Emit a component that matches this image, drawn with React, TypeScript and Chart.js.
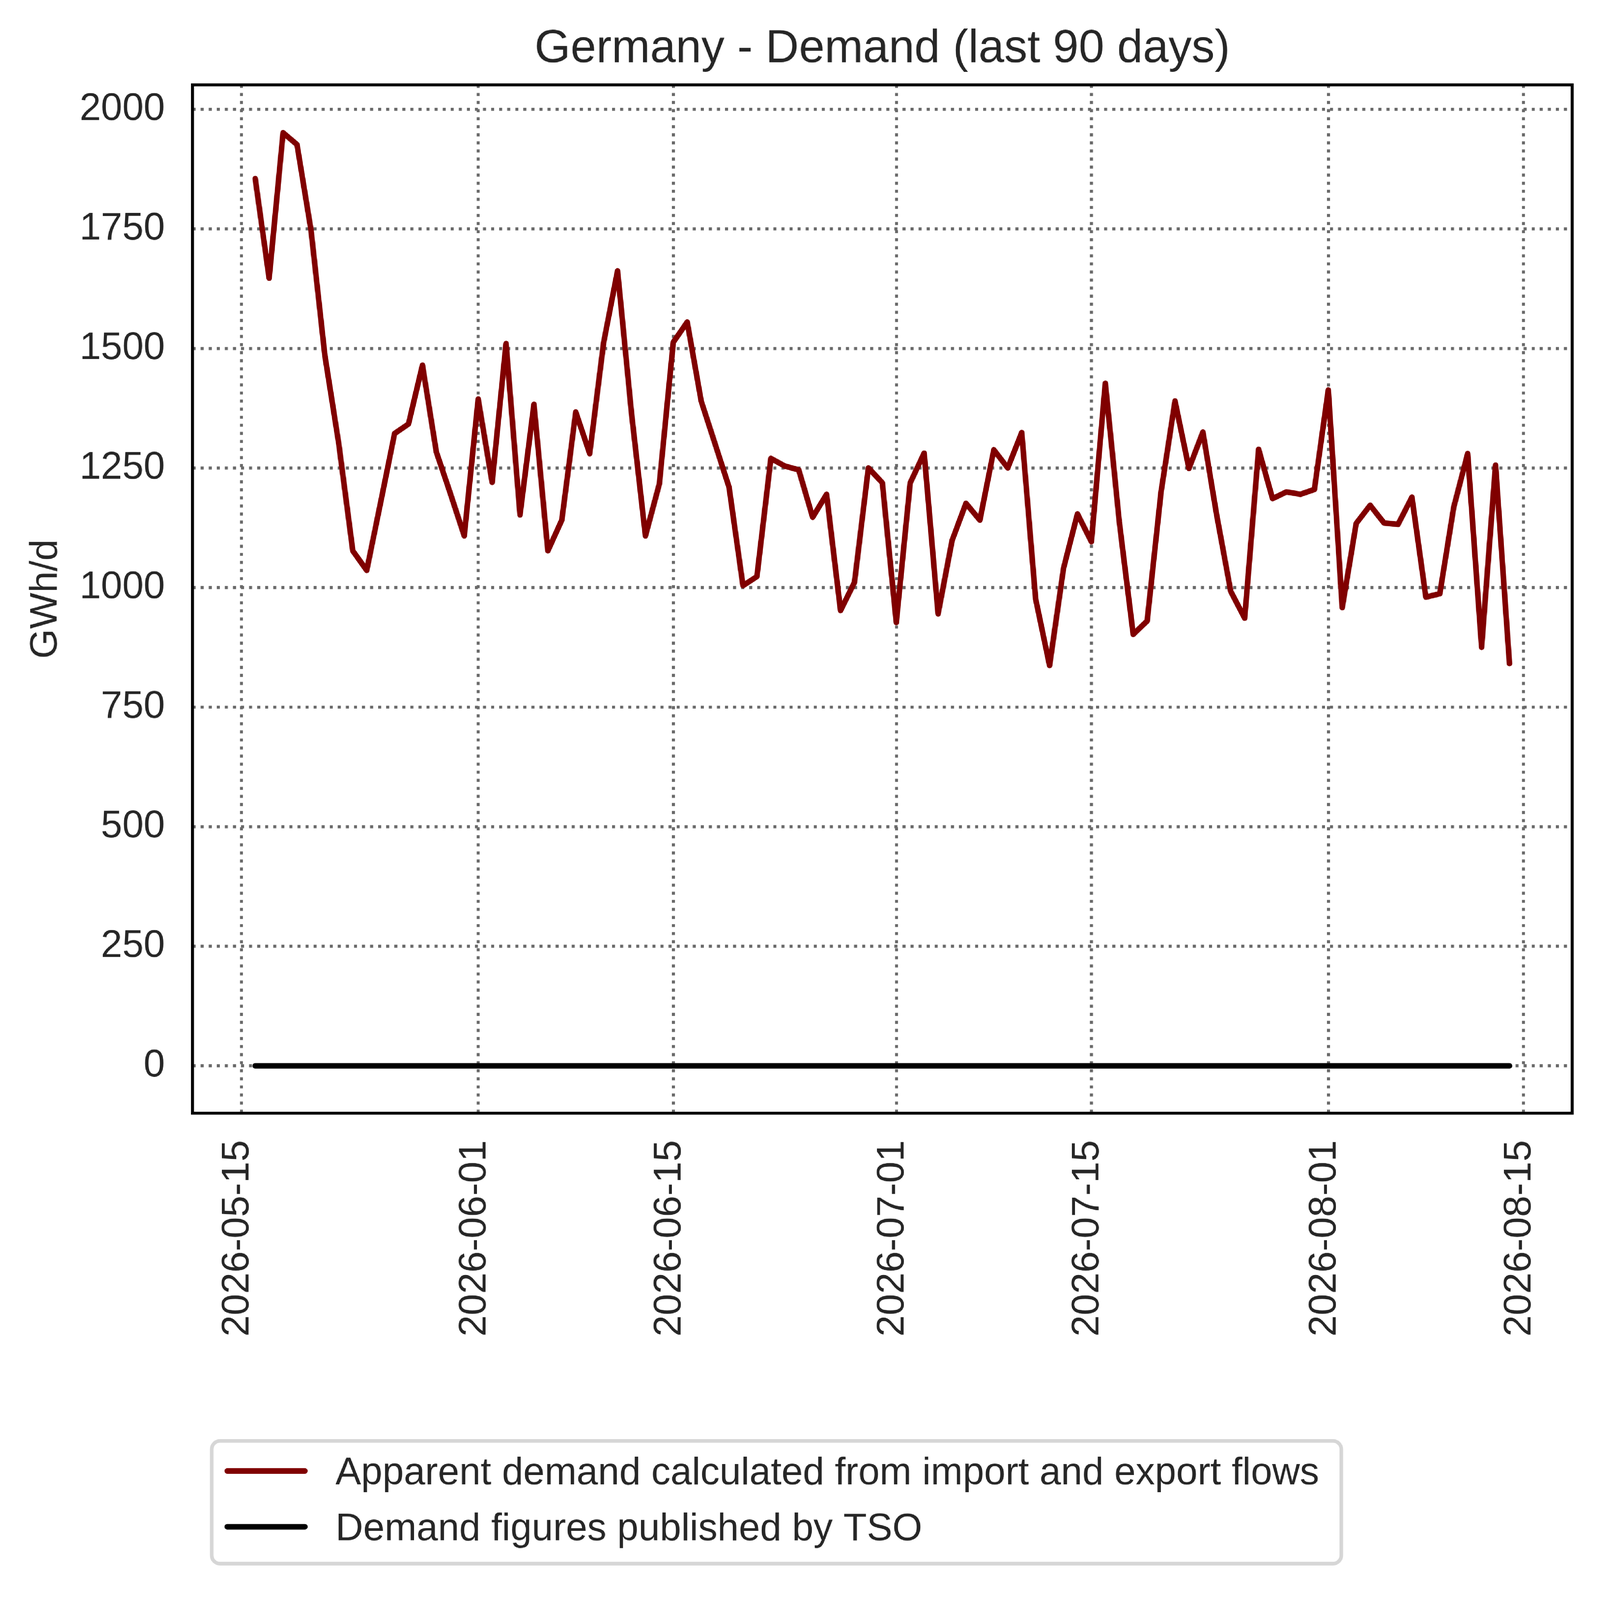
import { useEffect, useRef } from "react"
import { Chart, registerables } from "chart.js"
import type { Plugin } from "chart.js"

Chart.register(...registerables)

// Daily series, first day 2026-05-16
const startDate = "2026-05-16"

const apparentDemand = [
  1855, 1647, 1951, 1926, 1748, 1485, 1300, 1077, 1036, 1178, 1322, 1342, 1465, 1283, 1197, 1108,
  1394, 1220, 1510, 1152, 1383, 1077, 1141, 1367, 1280, 1512, 1662, 1365, 1108, 1217,
  1513, 1555, 1390, 1300, 1210, 1004, 1023, 1270, 1254, 1246, 1147, 1195, 952, 1011, 1250, 1219,
  927, 1219, 1281, 945, 1098, 1176, 1141, 1288, 1250, 1324, 976, 837, 1040, 1154,
  1096, 1427, 1138, 902, 930, 1200, 1390, 1249, 1325, 1150, 992, 936, 1289, 1186, 1200, 1195, 1205,
  1413, 958, 1134, 1172, 1135, 1132, 1189, 980, 987, 1168, 1280, 875, 1256, 841,
]

const tsoDemand = [
  0, 0, 0, 0, 0, 0, 0, 0, 0, 0, 0, 0, 0, 0, 0, 0,
  0, 0, 0, 0, 0, 0, 0, 0, 0, 0, 0, 0, 0, 0,
  0, 0, 0, 0, 0, 0, 0, 0, 0, 0, 0, 0, 0, 0, 0, 0,
  0, 0, 0, 0, 0, 0, 0, 0, 0, 0, 0, 0, 0, 0,
  0, 0, 0, 0, 0, 0, 0, 0, 0, 0, 0, 0, 0, 0, 0, 0, 0,
  0, 0, 0, 0, 0, 0, 0, 0, 0, 0, 0, 0, 0, 0,
]

const xTickLabels = ["2026-05-15", "2026-06-01", "2026-06-15", "2026-07-01", "2026-07-15", "2026-08-01", "2026-08-15"]
const yTicks = [0, 250, 500, 750, 1000, 1250, 1500, 1750, 2000]

const seriesLabels = ["Apparent demand calculated from import and export flows", "Demand figures published by TSO"]
const chartTitle = "Germany - Demand (last 90 days)"
const yAxisTitle = "GWh/d"

const W = 5752
const H = 5721
const FONT = '"Liberation Sans", Arial, Helvetica, sans-serif'
const TEXT = "#262626"
const DAY = 86400000
const origin = Date.parse("2026-05-15T00:00:00Z")

// days since 2026-05-15
const dayOffset = (d: string) => (Date.parse(d + "T00:00:00Z") - origin) / DAY

const dates = apparentDemand.map((_, i) =>
  new Date(Date.parse(startDate + "T00:00:00Z") + i * DAY).toISOString().slice(0, 10),
)

// frame, title, y label and legend box like matplotlib
const decorations: Plugin<"line"> = {
  id: "decorations",
  afterDatasetsDraw(chart) {
    const { ctx, chartArea } = chart
    ctx.save()
    ctx.strokeStyle = "#000000"
    ctx.lineWidth = 11
    ctx.strokeRect(chartArea.left, chartArea.top, chartArea.right - chartArea.left, chartArea.bottom - chartArea.top)
    ctx.restore()
  },
  afterDraw(chart) {
    const { ctx, chartArea } = chart
    ctx.save()
    ctx.fillStyle = TEXT

    // title
    ctx.font = `166px ${FONT}`
    ctx.textAlign = "center"
    ctx.textBaseline = "alphabetic"
    ctx.fillText(chartTitle, (chartArea.left + chartArea.right) / 2, 223)

    // y axis title
    ctx.save()
    ctx.translate(203, (chartArea.top + chartArea.bottom) / 2)
    ctx.rotate(-Math.PI / 2)
    ctx.font = `138px ${FONT}`
    ctx.fillText(yAxisTitle, 0, 0)
    ctx.restore()

    // legend
    const bx = 761
    const by = 5179
    const bw = 4822 - 761
    const bh = 5620 - 5179
    ctx.beginPath()
    ctx.roundRect(bx, by, bw, bh, 30)
    ctx.fillStyle = "rgba(255,255,255,0.8)"
    ctx.fill()
    ctx.strokeStyle = "#d6d6d6"
    ctx.lineWidth = 13
    ctx.stroke()

    chart.data.datasets.forEach((ds, i) => {
      const ly = 5287 + i * 200.5
      ctx.beginPath()
      ctx.moveTo(817, ly)
      ctx.lineTo(1096, ly)
      ctx.strokeStyle = ds.borderColor as string
      ctx.lineWidth = 20
      ctx.lineCap = "round"
      ctx.stroke()

      ctx.fillStyle = TEXT
      ctx.font = `138px ${FONT}`
      ctx.textAlign = "left"
      ctx.textBaseline = "alphabetic"
      ctx.fillText(ds.label ?? "", 1206, 5335 + i * 200.5)
    })
    ctx.restore()
  },
}

export default function App() {
  const canvasRef = useRef<HTMLCanvasElement>(null)
  const chartRef = useRef<Chart<"line"> | null>(null)

  // the layout below is in picture pixels; shrink it to the viewport
  const scale = typeof window !== "undefined" ? window.innerWidth / W : 1

  useEffect(() => {
    document.body.style.margin = "0"
    document.documentElement.style.overflow = "hidden"
    document.body.style.overflow = "hidden"
    if (!canvasRef.current) return
    if (chartRef.current) chartRef.current.destroy()

    Chart.defaults.font.family = FONT

    const gridStyle = { color: "#696969", lineWidth: 11, drawTicks: false }
    const borderStyle = { display: false, dash: [11, 18] }

    chartRef.current = new Chart(canvasRef.current, {
      type: "line",
      data: {
        datasets: [
          {
            label: seriesLabels[0],
            data: dates.map((d, i) => ({ x: dayOffset(d), y: apparentDemand[i] })),
            borderColor: "#800000",
            borderWidth: 20,
            pointRadius: 0,
            borderJoinStyle: "round",
            borderCapStyle: "round",
            tension: 0,
          },
          {
            label: seriesLabels[1],
            data: dates.map((d, i) => ({ x: dayOffset(d), y: tsoDemand[i] })),
            borderColor: "#000000",
            borderWidth: 20,
            pointRadius: 0,
            borderJoinStyle: "round",
            borderCapStyle: "round",
            tension: 0,
          },
        ],
      },
      options: {
        responsive: true,
        maintainAspectRatio: false,
        animation: false,
        devicePixelRatio: scale * window.devicePixelRatio,
        layout: { padding: { top: 305, left: 0, right: 100, bottom: 0 } },
        plugins: {
          legend: { display: false },
          title: { display: false },
          tooltip: { enabled: false },
        },
        scales: {
          x: {
            type: "linear",
            min: -3.5,
            max: 95.5,
            afterBuildTicks: (axis) => {
              axis.ticks = xTickLabels.map((d) => ({ value: dayOffset(d) }))
            },
            afterFit: (axis) => {
              axis.height = 1720
            },
            ticks: {
              autoSkip: false,
              minRotation: 90,
              maxRotation: 90,
              padding: 97,
              labelOffset: -12,
              color: TEXT,
              font: { size: 138, family: FONT },
              callback: (value) => xTickLabels.find((d) => dayOffset(d) === Number(value)) ?? "",
            },
            grid: gridStyle,
            border: borderStyle,
          },
          y: {
            type: "linear",
            min: -99,
            max: 2051,
            afterBuildTicks: (axis) => {
              axis.ticks = yTicks.map((v) => ({ value: v }))
            },
            afterFit: (axis) => {
              axis.width = 692
            },
            ticks: {
              padding: 99,
              color: TEXT,
              font: { size: 138, family: FONT },
              callback: (value) => String(value),
            },
            grid: gridStyle,
            border: borderStyle,
          },
        },
      },
      plugins: [decorations],
    })

    return () => {
      if (chartRef.current) {
        chartRef.current.destroy()
        chartRef.current = null
      }
    }
  }, [scale])

  return (
    <div
      style={{
        width: W,
        height: H,
        position: "relative",
        background: "#ffffff",
        transform: `scale(${scale})`,
        transformOrigin: "0 0",
      }}
    >
      <canvas ref={canvasRef} />
    </div>
  )
}
